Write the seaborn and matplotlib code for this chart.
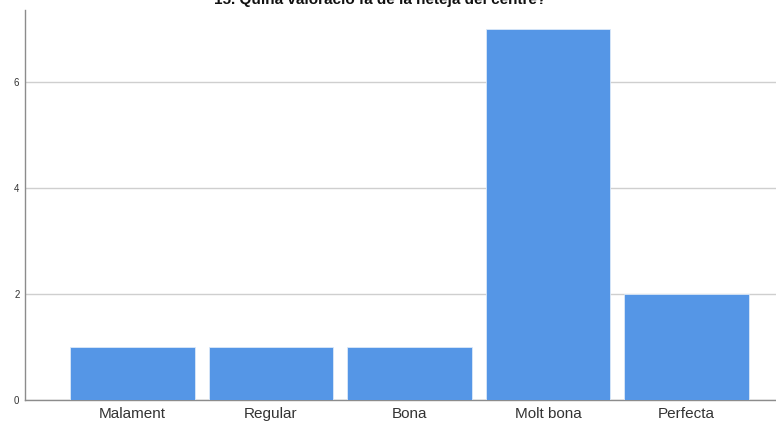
import matplotlib
matplotlib.use("Agg")
import matplotlib.pyplot as plt
import seaborn as sns
import pandas as pd

# dades del gràfic
categories = ["Malament", "Regular", "Bona", "Molt bona", "Perfecta"]
counts = [1, 1, 1, 7, 2]
title = "15. Quina valoració fa de la neteja del centre?"

sns.set_theme(style="white")
plt.rcParams['font.family'] = ['Liberation Sans', 'DejaVu Sans']

df = pd.DataFrame({"cat": categories, "n": counts})

fig = plt.figure(figsize=(7.76, 4.25), dpi=100)
ax = fig.add_axes([25 / 776, 25 / 425, 1 - 25 / 776, 390 / 425])

sns.barplot(data=df, x="cat", y="n", color="#5596E6", saturation=1,
            width=0.9, edgecolor="#dbe8f8", linewidth=0.6, ax=ax, zorder=3)

ax.set_xlim(-0.776, 4.646)
ax.set_ylim(0, 7.36)
ax.set_yticks([0, 2, 4, 6])
ax.yaxis.grid(True, color="#cfcfcf", linewidth=1, zorder=0)
ax.set_axisbelow(True)
ax.set_xlabel("")
ax.set_ylabel("")
ax.tick_params(axis="x", labelsize=11, length=0, pad=5, colors="#333333")
ax.tick_params(axis="y", labelsize=7, length=0, pad=4, colors="#333333")
for s in ["top", "right"]:
    ax.spines[s].set_visible(False)
for s in ["left", "bottom"]:
    ax.spines[s].set_color("#8c8c8c")
    ax.spines[s].set_linewidth(1)

# títol retallat a dalt, com a l'original
fig.text(0.49, 1 - 4 / 425, title, ha="center", va="baseline",
         fontsize=11, fontweight="bold", color="#111111")

fig.savefig("out.png", dpi=100)
